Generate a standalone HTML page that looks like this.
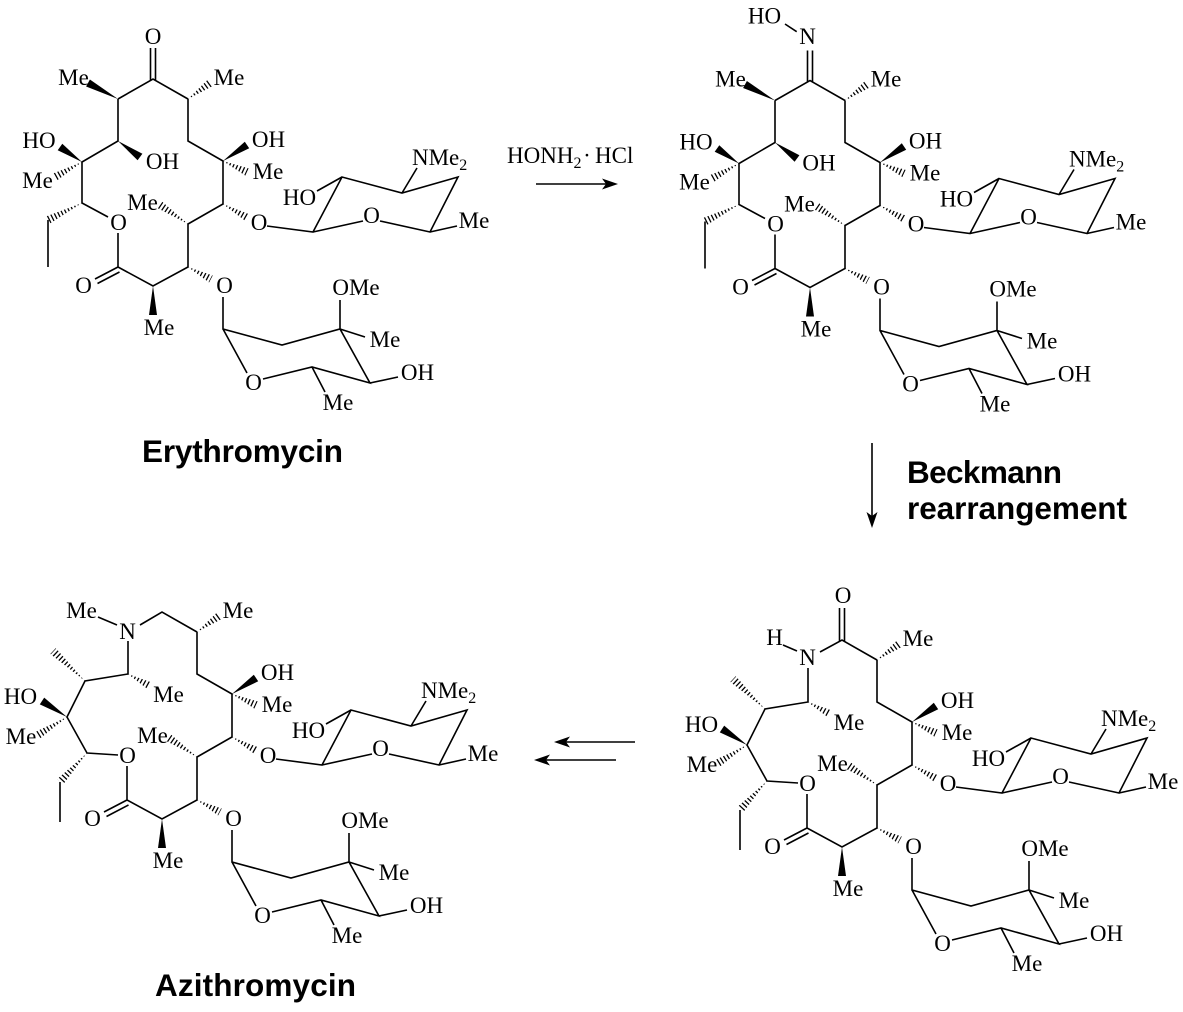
<!DOCTYPE html>
<html><head><meta charset="utf-8"><style>
html,body{margin:0;padding:0;background:#fff;}
svg{display:block;}
.b{fill:none;stroke:#000;stroke-width:1.6;stroke-linecap:butt;stroke-linejoin:miter;}
.h{fill:none;stroke:#000;stroke-width:10;stroke-dasharray:1.3 2.3;}
.w{fill:#000;stroke:none;}
text.t{font-family:"Liberation Serif","DejaVu Serif",serif;font-size:23px;fill:#000;text-anchor:middle;}
text.L{font-family:"Liberation Sans","DejaVu Sans",sans-serif;font-size:31.5px;font-weight:bold;fill:#000;}
</style></head><body>
<svg width="1183" height="1012" viewBox="0 0 1183 1012" xmlns="http://www.w3.org/2000/svg">
<defs>
<clipPath id="hc" clipPathUnits="userSpaceOnUse">
<polygon points="188,99 212.35,86.24 207.65,79.76"/>
<polygon points="223,161 245.33,175.64 248.67,168.36"/>
<polygon points="223,204 246.04,221.49 249.96,214.51"/>
<polygon points="188,224 162.25,201.69 157.75,208.31"/>
<polygon points="188,267 209.15,282.55 212.85,275.45"/>
<polygon points="82,162 56.94,180.5 53.06,173.5"/>
<polygon points="82,203 49.79,223.58 46.21,216.42"/>
<polygon points="119,141 139.08,156.51 142.92,149.49"/>
<polygon points="76,148 46.74,115.08 41.26,120.92"/>
<polygon points="58,184 31.11,205.4 26.89,198.6"/>
<polygon points="78,220 53.93,251.73 48.07,246.27"/>
</clipPath>
</defs>
<rect width="1183" height="1012" fill="#fff"/>

<!-- ===== Erythromycin ===== -->
<g transform="translate(0,0)">
<path class="b" d="M188,99 L188,141 L223,161 L223,204 L188,224 L188,267 L153,286 L118,267 L118,233 M118,267 L95,279 M119.5,272 L97.5,283.5 M267,226 L313,232 L342,177 L402,193 L458,177 L430,232 L380,221 M363,221 L313,232 M402,193 L417,168 M430,232 L457,226 M342,177 L317,191 M223,297 L223,329 L282,345 L340,329 L370,383 L312,367 L263,379 M247,373 L223,329 M340,329 L340,300 M340,329 L365,337 M370,383 L398,377 M312,367 L325,392
M118,99 L153,79 L188,99 M118,99 L118,141 L82,162 L82,203 L108,217 M48,220 L48,267 M150.5,48 L150.5,80 M155.5,48 L155.5,80"/>
<polygon class="w" points="223,161 249.2,148.3 244.8,141.7"/>
<polygon class="w" points="153,286 157,315 149,315"/>
<polygon class="w" points="118,99 89.9,79.5 86.1,86.5"/>
<polygon class="w" points="118,141 137.6,160.2 142.4,153.8"/>
<polygon class="w" points="82,162 62.3,143.7 57.7,150.3"/>
<g clip-path="url(#hc)"><path class="h" d="M188,99L210,83 M223,161L247,172 M223,204L248,218 M188,224L160,205 M188,267L211,279 M82,162L55,177 M82,203L48,220"/></g>
<text class="t" x="229" y="85">Me</text>
<text class="t" x="268.5" y="147">OH</text>
<text class="t" x="268" y="179">Me</text>
<text class="t" x="259" y="230">O</text>
<text class="t" x="142.5" y="210">Me</text>
<text class="t" x="118.5" y="230">O</text>
<text class="t" x="83.5" y="293">O</text>
<text class="t" x="224.5" y="293">O</text>
<text class="t" x="159" y="335">Me</text>
<text class="t" x="299.5" y="205">HO</text>
<text class="t" x="371.5" y="223">O</text>
<text class="t" x="412" y="165" style="text-anchor:start">NMe<tspan font-size="16" dy="5">2</tspan></text>
<text class="t" x="474" y="228">Me</text>
<text class="t" x="356" y="295">OMe</text>
<text class="t" x="385" y="347">Me</text>
<text class="t" x="417.5" y="380">OH</text>
<text class="t" x="253.5" y="390">O</text>
<text class="t" x="338" y="410">Me</text>
<text class="t" x="153" y="44">O</text>
<text class="t" x="73.5" y="85">Me</text>
<text class="t" x="39" y="148">HO</text>
<text class="t" x="162.5" y="169">OH</text>
<text class="t" x="37.5" y="188">Me</text>
</g>

<!-- ===== Oxime ===== -->
<g transform="translate(657,1.5)">
<path class="b" d="M188,99 L188,141 L223,161 L223,204 L188,224 L188,267 L153,286 L118,267 L118,233 M118,267 L95,279 M119.5,272 L97.5,283.5 M267,226 L313,232 L342,177 L402,193 L458,177 L430,232 L380,221 M363,221 L313,232 M402,193 L417,168 M430,232 L457,226 M342,177 L317,191 M223,297 L223,329 L282,345 L340,329 L370,383 L312,367 L263,379 M247,373 L223,329 M340,329 L340,300 M340,329 L365,337 M370,383 L398,377 M312,367 L325,392
M118,99 L153,79 L188,99 M118,99 L118,141 L82,162 L82,203 L108,217 M48,220 L48,267 M150.5,49 L150.5,80 M155.5,49 L155.5,80 M128,22.5 L139.7,30.2"/>
<polygon class="w" points="223,161 249.2,148.3 244.8,141.7"/>
<polygon class="w" points="153,286 157,315 149,315"/>
<polygon class="w" points="118,99 89.9,79.5 86.1,86.5"/>
<polygon class="w" points="118,141 137.6,160.2 142.4,153.8"/>
<polygon class="w" points="82,162 62.3,143.7 57.7,150.3"/>
<g clip-path="url(#hc)"><path class="h" d="M188,99L210,83 M223,161L247,172 M223,204L248,218 M188,224L160,205 M188,267L211,279 M82,162L55,177 M82,203L48,220"/></g>
<text class="t" x="229" y="85">Me</text>
<text class="t" x="268.5" y="147">OH</text>
<text class="t" x="268" y="179">Me</text>
<text class="t" x="259" y="230">O</text>
<text class="t" x="142.5" y="210">Me</text>
<text class="t" x="118.5" y="230">O</text>
<text class="t" x="83.5" y="293">O</text>
<text class="t" x="224.5" y="293">O</text>
<text class="t" x="159" y="335">Me</text>
<text class="t" x="299.5" y="205">HO</text>
<text class="t" x="371.5" y="223">O</text>
<text class="t" x="412" y="165" style="text-anchor:start">NMe<tspan font-size="16" dy="5">2</tspan></text>
<text class="t" x="474" y="228">Me</text>
<text class="t" x="356" y="295">OMe</text>
<text class="t" x="385" y="347">Me</text>
<text class="t" x="417.5" y="380">OH</text>
<text class="t" x="253.5" y="390">O</text>
<text class="t" x="338" y="410">Me</text>
<text class="t" x="150.5" y="42.5">N</text>
<text class="t" x="107.5" y="22">HO</text>
<text class="t" x="73.5" y="85">Me</text>
<text class="t" x="39" y="148">HO</text>
<text class="t" x="162" y="169">OH</text>
<text class="t" x="37.5" y="188">Me</text>
</g>

<!-- ===== Lactam (Beckmann product) ===== -->
<g transform="translate(689,561)">
<path class="b" d="M188,99 L188,141 L223,161 L223,204 L188,224 L188,267 L153,286 L118,267 L118,233 M118,267 L95,279 M119.5,272 L97.5,283.5 M267,226 L313,232 L342,177 L402,193 L458,177 L430,232 L380,221 M363,221 L313,232 M402,193 L417,168 M430,232 L457,226 M342,177 L317,191 M223,297 L223,329 L282,345 L340,329 L370,383 L312,367 L263,379 M247,373 L223,329 M340,329 L340,300 M340,329 L365,337 M370,383 L398,377 M312,367 L325,392
M131,91 L153,79 L188,99 M119,107 L119,141 L76,148 L58,184 L78,220 L109,222 M51,249 L51,289 M150.5,47 L150.5,80 M155.5,47 L155.5,80 M94,84 L108,90"/>
<polygon class="w" points="223,161 249.2,148.3 244.8,141.7"/>
<polygon class="w" points="153,286 157,315 149,315"/>
<polygon class="w" points="58,184 35.2,164.6 30.8,171.4"/>
<g clip-path="url(#hc)"><path class="h" d="M188,99L210,83 M223,161L247,172 M223,204L248,218 M188,224L160,205 M188,267L211,279 M119,141L141,153 M76,148L44,118 M58,184L29,202 M78,220L51,249"/></g>
<text class="t" x="229" y="85">Me</text>
<text class="t" x="268.5" y="147">OH</text>
<text class="t" x="268" y="179">Me</text>
<text class="t" x="259" y="230">O</text>
<text class="t" x="143.5" y="210">Me</text>
<text class="t" x="118.5" y="230">O</text>
<text class="t" x="83.5" y="293">O</text>
<text class="t" x="224.5" y="293">O</text>
<text class="t" x="159" y="335">Me</text>
<text class="t" x="299.5" y="205">HO</text>
<text class="t" x="371.5" y="223">O</text>
<text class="t" x="412" y="165" style="text-anchor:start">NMe<tspan font-size="16" dy="5">2</tspan></text>
<text class="t" x="474" y="228">Me</text>
<text class="t" x="356" y="295">OMe</text>
<text class="t" x="385" y="347">Me</text>
<text class="t" x="417.5" y="380">OH</text>
<text class="t" x="253.5" y="390">O</text>
<text class="t" x="338" y="410">Me</text>
<text class="t" x="154" y="42">O</text>
<text class="t" x="85.5" y="84">H</text>
<text class="t" x="118.5" y="104">N</text>
<text class="t" x="160" y="169">Me</text>
<text class="t" x="12.5" y="171">HO</text>
<text class="t" x="13" y="211">Me</text>
</g>

<!-- ===== Azithromycin ===== -->
<g transform="translate(9,533)">
<path class="b" d="M188,99 L188,141 L223,161 L223,204 L188,224 L188,267 L153,286 L118,267 L118,233 M118,267 L95,279 M119.5,272 L97.5,283.5 M267,226 L313,232 L342,177 L402,193 L458,177 L430,232 L380,221 M363,221 L313,232 M402,193 L417,168 M430,232 L457,226 M342,177 L317,191 M223,297 L223,329 L282,345 L340,329 L370,383 L312,367 L263,379 M247,373 L223,329 M340,329 L340,300 M340,329 L365,337 M370,383 L398,377 M312,367 L325,392
M131,92 L153,79 L188,99 M119,108 L119,141 L76,148 L58,184 L78,220 L109,222 M51,249 L51,289 M89,84 L108,92"/>
<polygon class="w" points="223,161 249.2,148.3 244.8,141.7"/>
<polygon class="w" points="153,286 157,315 149,315"/>
<polygon class="w" points="58,184 35.2,164.6 30.8,171.4"/>
<g clip-path="url(#hc)"><path class="h" d="M188,99L210,83 M223,161L247,172 M223,204L248,218 M188,224L160,205 M188,267L211,279 M119,141L141,153 M76,148L44,118 M58,184L29,202 M78,220L51,249"/></g>
<text class="t" x="229" y="85">Me</text>
<text class="t" x="268.5" y="147">OH</text>
<text class="t" x="268" y="179">Me</text>
<text class="t" x="259" y="230">O</text>
<text class="t" x="143.5" y="210">Me</text>
<text class="t" x="118.5" y="230">O</text>
<text class="t" x="83.5" y="293">O</text>
<text class="t" x="224.5" y="293">O</text>
<text class="t" x="159" y="335">Me</text>
<text class="t" x="299.5" y="205">HO</text>
<text class="t" x="371.5" y="223">O</text>
<text class="t" x="412" y="165" style="text-anchor:start">NMe<tspan font-size="16" dy="5">2</tspan></text>
<text class="t" x="474" y="228">Me</text>
<text class="t" x="356" y="295">OMe</text>
<text class="t" x="385" y="347">Me</text>
<text class="t" x="417.5" y="380">OH</text>
<text class="t" x="253.5" y="390">O</text>
<text class="t" x="338" y="410">Me</text>
<text class="t" x="72.5" y="85">Me</text>
<text class="t" x="118.5" y="106">N</text>
<text class="t" x="159.5" y="169">Me</text>
<text class="t" x="11.5" y="171">HO</text>
<text class="t" x="12" y="211">Me</text>
</g>

<!-- ===== Arrows & reagents ===== -->
<text class="t" x="507" y="163" style="text-anchor:start">HONH<tspan font-size="16" dy="5">2</tspan></text>
<text class="t" x="587" y="163">·</text>
<text class="t" x="595" y="163" style="text-anchor:start">HCl</text>
<path class="b" d="M536,184 L607,184"/>
<polygon class="w" points="618,184 602,178.5 606,184 602,189.5"/>

<path class="b" d="M872,443 L872,516"/>
<polygon class="w" points="872,528 866.5,512 872,516 877.5,512"/>

<path class="b" d="M565,742 L635,742"/>
<polygon class="w" points="554,742 570,736.5 566,742 570,747.5"/>
<path class="b" d="M545,760 L616,760"/>
<polygon class="w" points="534,760 550,754.5 546,760 550,765.5"/>

<text class="L" x="142" y="462" textLength="201">Erythromycin</text>
<text class="L" x="907" y="483" textLength="155">Beckmann</text>
<text class="L" x="907" y="519" textLength="220">rearrangement</text>
<text class="L" x="155" y="996" textLength="201">Azithromycin</text>
</svg>
</body></html>
